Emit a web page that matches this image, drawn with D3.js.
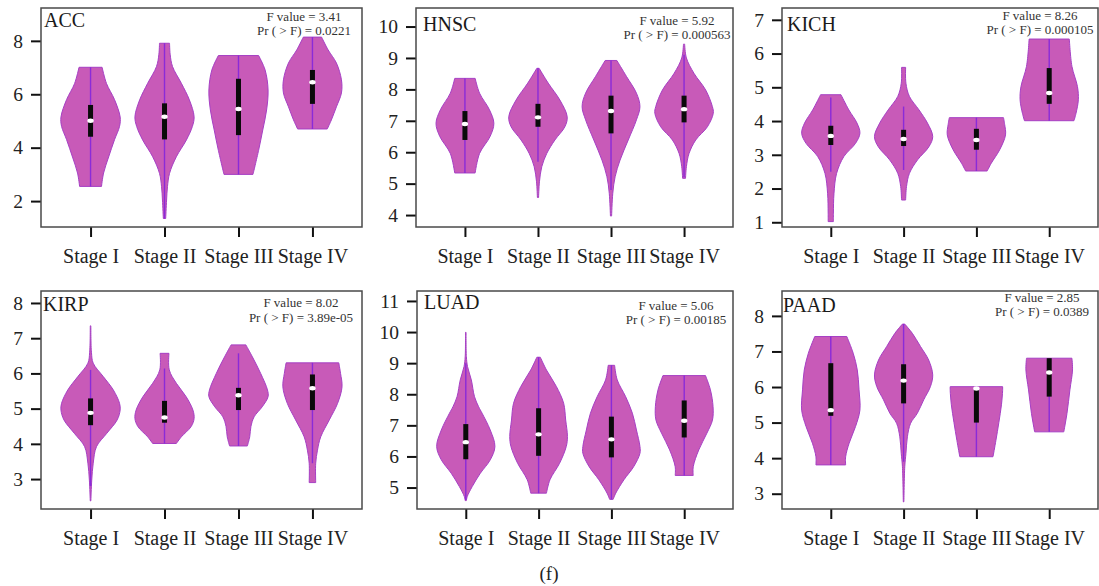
<!DOCTYPE html>
<html>
<head>
<meta charset="utf-8">
<script src="https://cdn.jsdelivr.net/npm/d3@7"></script>
<style>
  body { margin: 0; background: #fff; }
  svg { display: block; }
  text { font-family: "Liberation Serif", "Times New Roman", serif; }
</style>
</head>
<body>
<svg id="chart" width="1099" height="586"></svg>
<script>
// ---- data ---------------------------------------------------------------
const cancers = ["ACC", "HNSC", "KICH", "KIRP", "LUAD", "PAAD"];
const stages = ["Stage I", "Stage II", "Stage III", "Stage IV"];
const fValues = ["3.41", "5.92", "8.26", "8.02", "5.06", "2.85"];
const pValues = ["0.0221", "0.000563", "0.000105", "3.89e-05", "0.00185", "0.0389"];

// y-axis ranges and ticks per cancer
const yDomains = [[1.03, 9.23], [3.62, 10.59], [0.86, 7.35], [2.15, 8.34], [4.31, 11.32], [2.57, 8.70]];
const yTicks = [[2, 4, 6, 8], [4, 5, 6, 7, 8, 9, 10], [1, 2, 3, 4, 5, 6, 7], [3, 4, 5, 6, 7, 8], [5, 6, 7, 8, 9, 10, 11], [3, 4, 5, 6, 7, 8]];

// violin density profiles: [expression, relative density] per stage
const accDensity = [
  [[2.55,0.37],[3.05,0.44],[3.65,0.61],[4.3,0.81],[4.8,0.98],[5.15,1.0],[5.8,0.81],[6.4,0.54],[7.01,0.39]],
  [[1.35,0.04],[2.04,0.07],[2.54,0.1],[3.04,0.17],[3.66,0.4],[4.29,0.74],[4.79,0.94],[5.16,1.0],[5.79,0.84],[6.41,0.57],[7.04,0.27],[7.5,0.19],[7.91,0.17]],
  [[3.0,0.49],[3.9,0.68],[4.66,0.82],[5.41,0.95],[6.16,1.0],[6.91,0.9],[7.45,0.68]],
  [[4.7,0.5],[5.04,0.64],[5.53,0.81],[6.05,0.98],[6.54,0.98],[7.17,0.81],[7.66,0.53],[8.14,0.31]]
];
const hnscDensity = [
  [[5.34,0.35],[5.96,0.5],[6.5,0.86],[6.92,0.99],[7.35,0.84],[7.88,0.5],[8.35,0.35]],
  [[4.56,0.02],[5.06,0.05],[5.54,0.13],[5.96,0.3],[6.39,0.58],[6.81,0.92],[7.13,1.0],[7.66,0.75],[8.2,0.35],[8.67,0.04]],
  [[3.97,0.02],[4.69,0.06],[5.22,0.14],[5.75,0.31],[6.39,0.59],[7.03,0.87],[7.45,0.99],[7.88,0.87],[8.41,0.53],[8.92,0.2]],
  [[5.17,0.05],[5.54,0.08],[5.96,0.17],[6.39,0.4],[6.81,0.8],[7.24,1.0],[7.45,0.97],[7.98,0.74],[8.51,0.34],[9.0,0.08],[9.44,0.02]]
];
const kichDensity = [
  [[1.02,0.09],[1.27,0.09],[1.86,0.11],[2.45,0.2],[2.95,0.45],[3.34,0.85],[3.64,1.0],[3.94,0.9],[4.33,0.62],[4.78,0.35]],
  [[1.66,0.07],[2.06,0.1],[2.45,0.2],[2.85,0.48],[3.24,0.87],[3.54,1.0],[3.94,0.82],[4.33,0.53],[4.73,0.2],[5.12,0.08],[5.59,0.07]],
  [[2.52,0.37],[2.75,0.51],[3.15,0.8],[3.59,1.0],[3.9,0.97],[4.1,0.93]],
  [[4.01,0.85],[4.23,0.92],[4.63,1.0],[5.02,0.97],[5.62,0.78],[6.43,0.69]]
];
const kirpDensity = [
  [[2.38,0.01],[2.97,0.04],[3.45,0.09],[3.92,0.2],[4.3,0.55],[4.68,0.9],[4.96,1.0],[5.15,0.98],[5.53,0.77],[5.91,0.43],[6.29,0.09],[6.6,0.03],[7.35,0.01]],
  [[4.01,0.4],[4.2,0.57],[4.49,0.9],[4.72,1.0],[4.96,0.96],[5.34,0.73],[5.72,0.4],[6.1,0.16],[6.57,0.15]],
  [[3.94,0.3],[4.2,0.38],[4.49,0.42],[4.77,0.53],[5.05,0.8],[5.34,1.0],[5.53,0.98],[6.0,0.75],[6.47,0.47],[6.81,0.25]],
  [[2.9,0.11],[3.45,0.11],[3.82,0.17],[4.2,0.28],[4.68,0.57],[5.15,0.85],[5.62,1.0],[6.0,0.95],[6.3,0.89]]
];
const luadDensity = [
  [[4.58,0.02],[4.71,0.05],[5.03,0.22],[5.46,0.5],[5.89,0.84],[6.32,1.0],[6.85,0.84],[7.39,0.56],[7.6,0.44],[7.92,0.3],[8.46,0.19],[8.89,0.06],[9.21,0.02],[9.99,0.01]],
  [[4.82,0.27],[5.25,0.39],[5.78,0.72],[6.32,0.95],[6.64,0.99],[7.17,0.93],[7.71,0.86],[8.25,0.61],[8.78,0.27],[9.19,0.06]],
  [[4.62,0.06],[4.82,0.15],[5.25,0.43],[5.68,0.77],[6.1,0.98],[6.32,0.98],[6.85,0.86],[7.39,0.72],[7.92,0.49],[8.46,0.2],[8.93,0.11]],
  [[5.39,0.31],[5.67,0.31],[6.21,0.5],[6.75,0.78],[7.17,0.97],[7.6,0.99],[8.14,0.9],[8.6,0.73]]
];
const paadDensity = [
  [[3.81,0.51],[4.04,0.51],[4.42,0.63],[4.89,0.85],[5.35,1.0],[5.92,0.97],[6.48,0.91],[6.95,0.77],[7.42,0.55]],
  [[2.77,0.01],[3.76,0.04],[4.13,0.08],[4.6,0.13],[4.98,0.24],[5.26,0.47],[5.64,0.69],[6.01,0.92],[6.34,1.0],[6.76,0.86],[7.14,0.58],[7.51,0.3],[7.77,0.04]],
  [[4.04,0.57],[4.5,0.67],[5.0,0.77],[5.5,0.86],[5.9,0.9],[6.01,0.9]],
  [[4.74,0.5],[5.26,0.61],[5.92,0.71],[6.48,0.8],[6.81,0.78]]
];
const densities = [accDensity, hnscDensity, kichDensity, kirpDensity, luadDensity, paadDensity];

// box statistics per cancer, one value per stage
const q1Values = [[4.41,4.31,4.47,5.64],[6.39,6.81,6.6,6.95],[3.29,3.26,3.15,4.51],[4.53,4.6,4.96,4.96],[5.91,6.02,5.97,6.61],[5.19,5.54,5.0,5.73]];
const medianValues = [[5.01,5.16,5.45,6.45],[6.9,7.11,7.31,7.37],[3.56,3.47,3.44,4.83],[4.88,4.75,5.38,5.58],[6.46,6.71,6.55,7.15],[5.35,6.18,5.96,6.41]];
const q3Values = [[5.6,5.66,6.58,6.91],[7.31,7.54,7.8,7.8],[3.86,3.74,3.77,5.57],[5.29,5.22,5.59,5.97],[7.04,7.55,7.28,7.8],[6.67,6.64,5.96,6.81]];
const whiskerValues = [
  [[2.55,7.01],[1.35,7.91],[3.0,7.45],[4.7,8.14]],
  [[5.34,8.35],[5.7,8.67],[4.8,8.92],[5.2,9.1]],
  [[2.5,4.7],[2.55,4.43],[2.52,4.1],[4.01,6.43]],
  [[2.8,6.1],[4.01,6.14],[3.94,6.57],[3.45,6.3]],
  [[4.6,9.0],[4.82,9.19],[4.62,8.93],[5.39,8.6]],
  [[3.81,7.42],[3.9,7.77],[4.04,6.01],[4.74,6.81]]
];

// ---- layout -------------------------------------------------------------
const frames = [[41,8,362,227],[416,8,733,227],[782,8,1098,227],[41,291,362,509],[417,291,733,509],[782,291,1098,509]];
const titleOffsets = [[3,19],[7,23],[5,23],[2,20],[7,18],[1,21]];
// [x offset of centre from right edge, first baseline from top, line gap]
const statOffsets = [[-58,12.5,14.3],[-56,17,14.2],[-58,12,14],[-61,16.3,14.4],[-57,19,14],[-56,10.7,14.3]];

const violinFill = "#c85ab8";
const violinStroke = "#a63fc4";
const whiskerColor = "#8a2bd8";
const serif = '"Liberation Serif", "Times New Roman", serif';

const svg = d3.select("#chart");

cancers.forEach((name, i) => {
  const [x0, y0, x1, y1] = frames[i];
  const g = svg.append("g");

  const x = d3.scalePoint().domain(stages).range([x0, x1]).padding(0.67);
  const y = d3.scaleLinear().domain(yDomains[i]).range([y1, y0]);
  const w = d3.scaleLinear().domain([0, 1]).range([0, x.step() * 0.4]);

  // axes
  const yAxis = d3.axisLeft(y).tickValues(yTicks[i]).tickSize(10).tickPadding(8).tickFormat(d3.format("d"));
  const xAxis = d3.axisBottom(x).tickSize(10).tickPadding(12);

  const ya = g.append("g").attr("transform", `translate(${x0},0)`).call(yAxis);
  const xa = g.append("g").attr("transform", `translate(0,${y1})`).call(xAxis);
  [ya, xa].forEach(a => {
    a.select(".domain").remove();
    a.selectAll(".tick line").attr("stroke", "#111").attr("stroke-width", 2);
    a.selectAll(".tick text").attr("fill", "#222").style("font-family", serif);
  });
  ya.selectAll(".tick text").style("font-size", "19.5px");
  xa.selectAll(".tick text").style("font-size", "20px");

  // violins
  stages.forEach((s, j) => {
    const cx = x(s);
    const area = d3.area()
      .curve(d3.curveCatmullRom.alpha(0.5))
      .y(p => y(p[0]))
      .x0(p => cx - w(p[1]))
      .x1(p => cx + w(p[1]));
    g.append("path")
      .datum(densities[i][j])
      .attr("d", area)
      .attr("fill", violinFill)
      .attr("stroke", violinStroke)
      .attr("stroke-width", 1);

    const [lo, hi] = whiskerValues[i][j];
    g.append("line")
      .attr("x1", cx).attr("x2", cx)
      .attr("y1", y(lo)).attr("y2", y(hi))
      .attr("stroke", whiskerColor).attr("stroke-width", 1.4);

    g.append("rect")
      .attr("x", cx - 2.5).attr("width", 5)
      .attr("y", y(q3Values[i][j]))
      .attr("height", y(q1Values[i][j]) - y(q3Values[i][j]))
      .attr("fill", "#0a0a0a");

    g.append("ellipse")
      .attr("cx", cx).attr("cy", y(medianValues[i][j]))
      .attr("rx", 3.2).attr("ry", 2.2)
      .attr("fill", "#fff");
  });

  // frame
  g.append("rect")
    .attr("x", x0).attr("y", y0)
    .attr("width", x1 - x0).attr("height", y1 - y0)
    .attr("fill", "none").attr("stroke", "#4a4a4a").attr("stroke-width", 1.5);

  // cancer label
  g.append("text")
    .attr("x", x0 + titleOffsets[i][0]).attr("y", y0 + titleOffsets[i][1])
    .attr("fill", "#1a1a1a").style("font-size", "20px")
    .text(name);

  // F statistic
  const [sx, sy, gap] = statOffsets[i];
  const st = g.append("text")
    .attr("text-anchor", "middle").attr("fill", "#333").style("font-size", "13px");
  st.append("tspan").attr("x", x1 + sx).attr("y", y0 + sy).text(`F value = ${fValues[i]}`);
  st.append("tspan").attr("x", x1 + sx).attr("y", y0 + sy + gap).text(`Pr ( > F) = ${pValues[i]}`);
});

svg.append("text")
  .attr("x", 549).attr("y", 580)
  .attr("text-anchor", "middle").attr("fill", "#222")
  .style("font-size", "19px")
  .text("(f)");
</script>
</body>
</html>
